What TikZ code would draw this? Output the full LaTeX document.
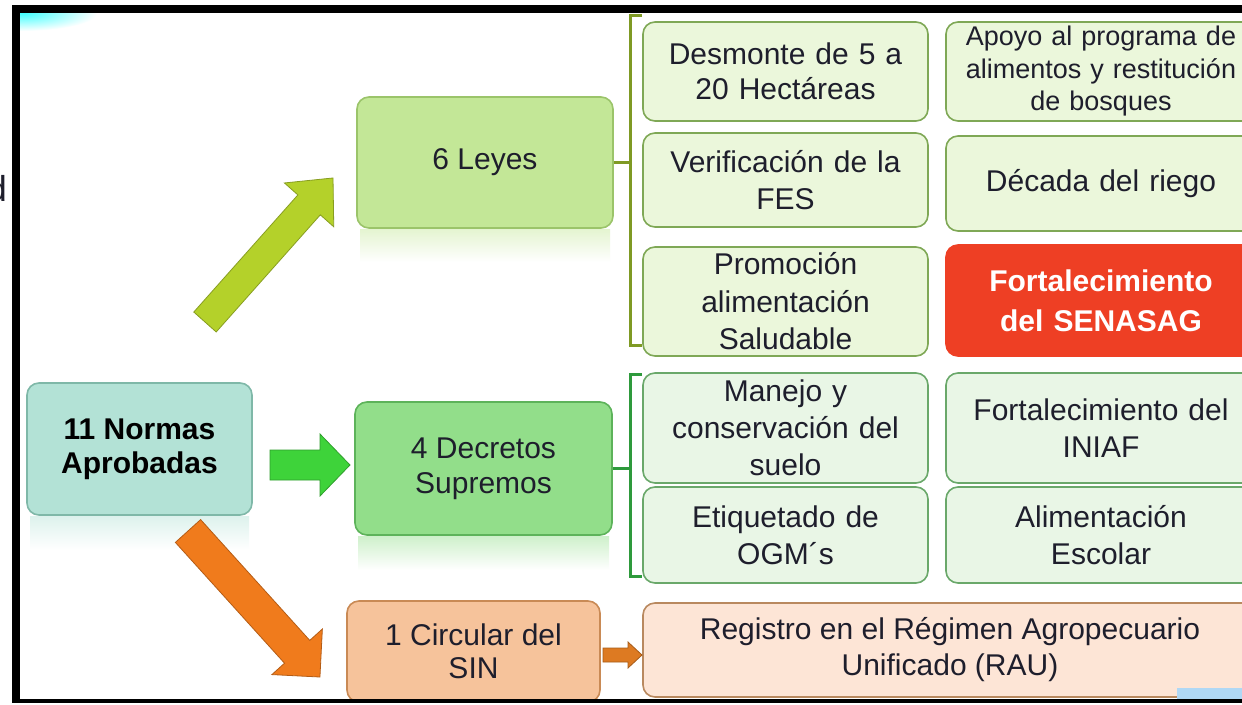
\documentclass[tikz,border=0pt]{standalone}
\usepackage{fontspec}
\setmainfont{Liberation Sans}
\newcommand{\fsz}[2]{\fontsize{#1}{#2}\selectfont}
\definecolor{txt}{HTML}{1E1E2C}
\definecolor{leyF}{HTML}{C3E797}\definecolor{leyD}{HTML}{9BC46A}
\definecolor{norF}{HTML}{B3E2D6}\definecolor{norD}{HTML}{7FB8A8}
\definecolor{decF}{HTML}{92DE8A}\definecolor{decD}{HTML}{5DB35A}
\definecolor{cirF}{HTML}{F6C39B}\definecolor{cirD}{HTML}{C98A55}
\definecolor{regF}{HTML}{FDE5D6}\definecolor{regD}{HTML}{B9895F}
\definecolor{g1F}{HTML}{EBF7DB}\definecolor{g1D}{HTML}{7FA856}
\definecolor{g2F}{HTML}{E9F6E6}\definecolor{g2D}{HTML}{6AA86A}
\definecolor{redF}{HTML}{EE3F24}
\definecolor{brkA}{HTML}{7F9A24}\definecolor{brkB}{HTML}{2E9A3C}
\definecolor{arY}{HTML}{B4D12A}\definecolor{arG}{HTML}{3ED33A}
\definecolor{arO}{HTML}{F07B1C}\definecolor{arO2}{HTML}{DD7A22}
\definecolor{skyb}{HTML}{B0D8F5}
\newcommand{\blkarrow}[8]{%
  \begin{scope}[shift={(#1,#2)},rotate=#3]
    \fill[#8, draw=#8!75!black, line width=0.8pt]
      (0,{-#5/2}) -- ({#4-#7},{-#5/2}) -- ({#4-#7},{-#6/2}) -- (#4,0)
      -- ({#4-#7},{#6/2}) -- ({#4-#7},{#5/2}) -- (0,{#5/2}) -- cycle;
  \end{scope}}
\begin{document}
\begin{tikzpicture}[x=1pt,y=-1pt,
  box/.style={rounded corners=12pt, draw, line width=1.6pt, align=center,
    inner sep=0pt, font=\fsz{30}{36}, text=txt},
  gA/.style={box, fill=g1F, draw=g1D, minimum width=285, text width=285},
  gB/.style={box, fill=g1F, draw=g1D, minimum width=310, text width=310},
  hA/.style={box, fill=g2F, draw=g2D, minimum width=285, text width=285},
  hB/.style={box, fill=g2F, draw=g2D, minimum width=310, text width=310},
  brk/.style={line width=3pt}]
\useasboundingbox (0,0) rectangle (1242,704);
\clip (0,0) rectangle (1242,704);
\fill[white] (0,0) rectangle (1242,704);
% corner glow
\begin{scope}
  \clip (20,13) rectangle (140,45);
  \shade[inner color=cyan!75, outer color=white] (22,13) ellipse (75 and 18);
\end{scope}
% cut letter at left
\node[anchor=base east, inner sep=0pt, font=\fsz{36}{40}, text=txt] (dcut) at (7,201) {d};
% reflections
\shade[top color=leyF!45!white, bottom color=white] (360,229) rectangle (610,262);
\shade[top color=norF!45!white, bottom color=white] (30,516) rectangle (249,550);
\shade[top color=decF!45!white, bottom color=white] (358,536) rectangle (609,570);
% left boxes
\node[box, fill=leyF, draw=leyD, minimum width=256, minimum height=131] (leyes) at (485,162.5) {6 Leyes};
\node[box, fill=norF, draw=norD, minimum width=225, minimum height=132, font=\bfseries\fsz{30}{34}, text=black] (normas) at (139.5,449) {11 Normas\\Aprobadas};
\node[box, fill=decF, draw=decD, minimum width=257, minimum height=133, font=\fsz{30}{35}] (decretos) at (483.5,468.5) {4 Decretos\\Supremos};
\node[box, fill=cirF, draw=cirD, minimum width=253, minimum height=101, font=\fsz{30}{33}] (circular) at (473.5,651.5) {1 Circular del\\SIN};
\node[box, fill=regF, draw=regD, minimum width=614, minimum height=94, font=\fsz{30}{36}] (registro) at (950,650) {Registro en el Régimen Agropecuario\\Unificado (RAU)};
% right grid (laws)
\node[gA, minimum height=99, font=\fsz{30}{35}] (d1) at (785.5,71.5) {Desmonte de 5 a\\20 Hectáreas};
\node[gB, minimum height=99, font=\fsz{27}{32.5}] (d2) at (1101,71.5) {Apoyo al programa de\\alimentos y restitución\\de bosques};
\node[gA, minimum height=94, font=\fsz{30}{37}] (d3) at (785.5,180) {Verificación de la\\FES};
\node[gB, minimum height=95] (d4) at (1101,183.5) {Década del riego};
\node[gA, minimum height=109, font=\fsz{30}{37.5}] (d5) at (785.5,301.5) {Promoción\\alimentación\\Saludable};
\node[box, fill=redF, draw=redF, minimum width=310, text width=310, minimum height=111, text=white, font=\bfseries\fsz{30}{40}] (d6) at (1101,300.5) {Fortalecimiento\\del SENASAG};
% right grid (decrees)
\node[hA, minimum height=110, font=\fsz{30}{37}] (e1) at (785.5,428) {Manejo y\\conservación del\\suelo};
\node[hB, minimum height=110, font=\fsz{30}{37}] (e2) at (1101,428) {Fortalecimiento del\\INIAF};
\node[hA, minimum height=96, font=\fsz{30}{37}] (e3) at (785.5,535) {Etiquetado de\\OGM´s};
\node[hB, minimum height=96, font=\fsz{30}{37}] (e4) at (1101,535) {Alimentación\\Escolar};
% brackets
\coordinate (b1t) at (630,15); \coordinate (b1b) at (630,345);
\draw[brk, brkA] (d1.north west |- b1t) -- (b1t) -- (b1b) -- (d5.west |- b1b);
\draw[brk, brkA] (leyes.east) -- (leyes.east -| b1t);
\coordinate (b2t) at (630,374); \coordinate (b2b) at (630,576);
\draw[brk, brkB] (e1.west |- b2t) -- (b2t) -- (b2b) -- (e3.west |- b2b);
\draw[brk, brkB] (decretos.east) -- (decretos.east -| b2t);
% block arrows
\blkarrow{205}{322}{48.37}{192.7}{30}{66}{36}{arY}
\blkarrow{270}{465}{0}{80}{30}{62}{30}{arG}
\blkarrow{188}{531}{-47.9}{196.8}{34}{68}{34}{arO}
\blkarrow{603}{655}{0}{39}{14}{26}{14}{arO2}
% frame
\fill[black] (12,5) rectangle (1242,13);
\fill[black] (12,5) rectangle (20,703);
\fill[black] (12,699) rectangle (1242,703);
\fill[skyb] (1177,688) rectangle (1242,699);
\end{tikzpicture}
\end{document}
